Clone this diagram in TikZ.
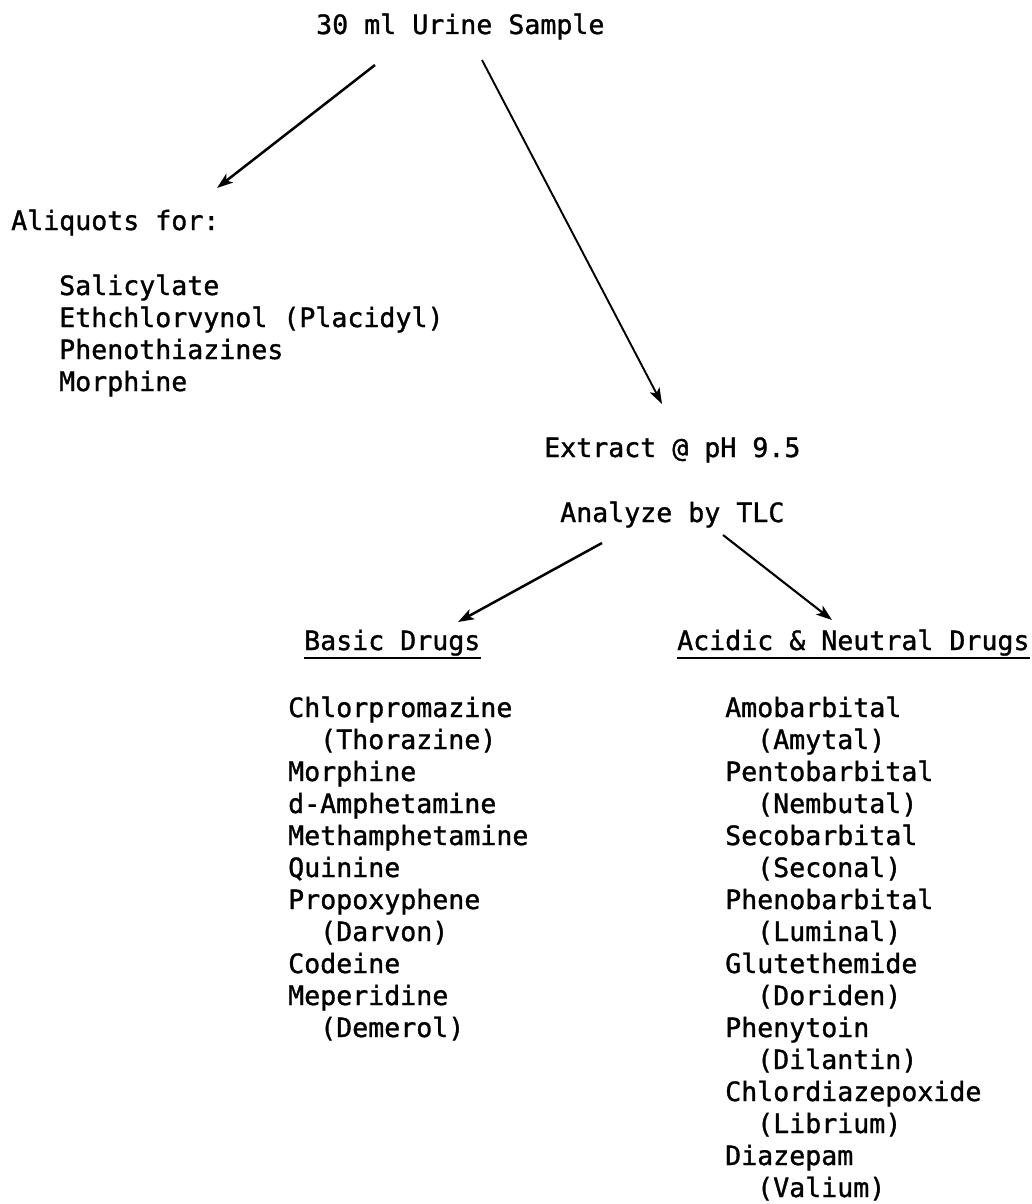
\documentclass[tikz,border=0pt]{standalone}
\usepackage{fontspec}
\usepackage{tikz}
\usetikzlibrary{arrows.meta}
\newfontfamily\typewriter[FakeBold=1.2]{DejaVu Sans Mono}

\begin{document}
\begin{tikzpicture}[x=1pt, y=-1pt]
    \tikzstyle{txt} = [anchor=base west, inner sep=0pt, font=\typewriter\fontsize{26.6}{32}\selectfont]
    \tikzstyle{arr} = [line width=2.5pt, -{Stealth[length=16pt, width=11pt, inset=4pt]}]
    \useasboundingbox (0,0) rectangle (1032,1204);
    % top of the tree
    \node[txt] (sample) at (316, 34) {30 ml Urine Sample};
    \node[txt] (aliquots) at (11, 230) {Aliquots for:};
    \foreach \drug [count=\i from 0] in {Salicylate, Ethchlorvynol (Placidyl), Phenothiazines, Morphine} {
        \node[txt] (aliquot-\i) at (59, 295+32*\i) {\drug};
    }
    \node[txt] (extract) at (544, 457) {Extract @ pH 9.5};
    \node[txt] (analyze) at (560, 522) {Analyze by TLC};
    % the two groups
    \node[txt] (basic) at (304, 650) {Basic Drugs};
    \node[txt] (acidic) at (677, 650) {Acidic \& Neutral Drugs};
    \draw[line width=2pt] ([yshift=-8pt]basic.base west) -- ([yshift=-8pt]basic.base east);
    \draw[line width=2pt] ([yshift=-8pt]acidic.base west) -- ([yshift=-8pt]acidic.base east);
    \foreach \ind/\drug [count=\i from 0] in {0/Chlorpromazine, 32/(Thorazine), 0/Morphine, 0/d-Amphetamine,
        0/Methamphetamine, 0/Quinine, 0/Propoxyphene, 32/(Darvon), 0/Codeine, 0/Meperidine, 32/(Demerol)} {
        \node[txt] (basic-\i) at (288+\ind, 717+32*\i) {\drug};
    }
    \foreach \ind/\drug [count=\i from 0] in {0/Amobarbital, 32/(Amytal), 0/Pentobarbital, 32/(Nembutal),
        0/Secobarbital, 32/(Seconal), 0/Phenobarbital, 32/(Luminal), 0/Glutethemide, 32/(Doriden),
        0/Phenytoin, 32/(Dilantin), 0/Chlordiazepoxide, 32/(Librium), 0/Diazepam, 32/(Valium)} {
        \node[txt] (acidic-\i) at (725+\ind, 717+32*\i) {\drug};
    }
    % arrows
    \coordinate (sample-l) at (375, 65);
    \coordinate (aliquots-in) at (217, 188);
    \coordinate (sample-r) at (482, 60);
    \coordinate (extract-in) at (662, 404);
    \coordinate (analyze-l) at (602, 543);
    \coordinate (basic-in) at (458, 622);
    \coordinate (analyze-r) at (723, 535);
    \coordinate (acidic-in) at (832, 620);
    \draw[arr] (sample-l) -- (aliquots-in);
    \draw[arr, line width=1.9pt] (sample-r) -- (extract-in);
    \draw[arr] (analyze-l) -- (basic-in);
    \draw[arr, line width=2.1pt] (analyze-r) -- (acidic-in);
\end{tikzpicture}
\end{document}
